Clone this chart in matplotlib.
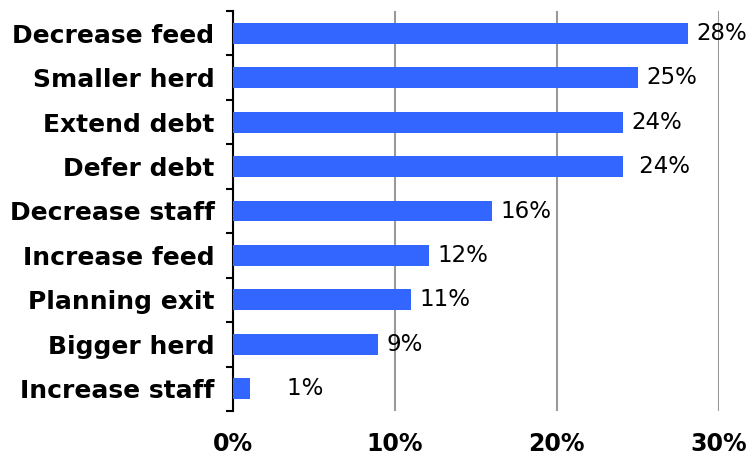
import matplotlib
matplotlib.use("Agg")
import matplotlib.pyplot as plt
import numpy as np

categories = ["Decrease feed", "Smaller herd", "Extend debt", "Defer debt", "Decrease staff",
              "Increase feed", "Planning exit", "Bigger herd", "Increase staff"]
values = [28.1, 25.0, 24.1, 24.1, 16.0, 12.1, 11.0, 9.0, 1.05]
value_labels = ["28%", "25%", "24%", " 24%", "16%", "12%", "11%", "9%", "    1%"]
xticks = [0, 10, 20, 30]
xtick_labels = ["0%", "10%", "20%", "30%"]

fig = plt.figure(figsize=(7.54, 4.57), dpi=100)
ax = fig.add_axes([232.5/754, 1-411/457, (719-232.5)/754, 400/457])

n = len(categories)
y = np.arange(n)
ax.barh(y, values, height=0.47, color="#3366FF", zorder=3)
ax.set_ylim(n - 0.5, -0.5)
ax.set_xlim(0, 30)

for yi, v, lab in zip(y, values, value_labels):
    ax.annotate(lab, (v, yi), xytext=(6, 0), textcoords="offset points",
                va="center", ha="left", fontsize=16.5, color="black")

ax.set_xticks(xticks)
ax.set_xticklabels(xtick_labels, fontsize=17, fontweight="bold")
ax.tick_params(axis="x", length=0, pad=15)
ax.grid(axis="x", color="#999999", linewidth=1.5, zorder=0)

ax.set_yticks(np.arange(-0.5, n, 1))
ax.set_yticklabels([])
ax.tick_params(axis="y", which="major", length=5, width=1.5, direction="out")
ax.set_yticks(y, minor=True)
ax.set_yticklabels(categories, minor=True, fontsize=18, fontweight="bold")
ax.tick_params(axis="y", which="minor", length=0, pad=13)

for s in ["top", "right", "bottom"]:
    ax.spines[s].set_visible(False)
ax.spines["left"].set_linewidth(1.5)

fig.savefig("out.png", dpi=100)
